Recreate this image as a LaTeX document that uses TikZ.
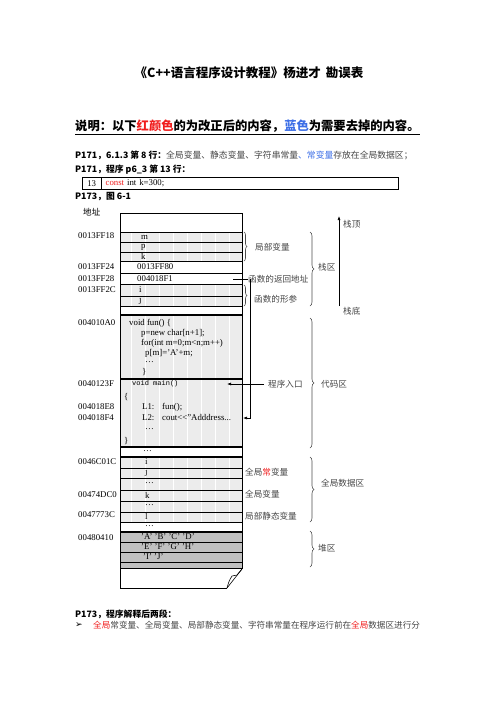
\documentclass[tikz,border=0pt]{standalone}
\usepackage{fontspec}
\setmainfont{Liberation Serif}
\newfontfamily\cjk{Noto Sans CJK SC}
\newfontfamily\codemono{Liberation Mono}
\newfontfamily\dingfont{DejaVu Sans}
\usetikzlibrary{positioning, arrows.meta, decorations.pathreplacing}
\definecolor{fixred}{RGB}{240,30,30}
\definecolor{delblue}{RGB}{60,110,230}
\definecolor{cellfill}{RGB}{236,236,236}
\definecolor{heapfill}{RGB}{192,192,192}
\definecolor{notetext}{RGB}{70,70,70}

\begin{document}
\begin{tikzpicture}[
    x=1pt, y=-1pt,
    addr/.style={anchor=west, inner sep=0pt, font=\fontsize{8.8}{10}\selectfont},
    cell/.style={anchor=west, inner sep=0pt, font=\fontsize{8.8}{10}\selectfont},
    note/.style={anchor=west, inner sep=0pt, text=notetext, font=\fontsize{8.6}{10}\cjk},
    head/.style={anchor=west, inner sep=0pt, font=\fontsize{8.8}{10}\cjk\bfseries},
    grp/.style={decorate, decoration={brace, amplitude=3pt}, draw=black!70, line width=0.6pt},
    stripe/.style={white, line width=0.8pt},
    sep/.style={line width=1.3pt},
    row/.style={line width=0.5pt},
    ptr/.style={-{Latex[length=4pt, width=3pt]}, line width=0.6pt}
]
\useasboundingbox (0,0) rectangle (496,702);

% ---------- Title ----------
\node[font=\fontsize{12.5}{14}\cjk\bfseries] (title) at (249,73) {《C++语言程序设计教程》杨进才\hspace{5pt}勘误表};
\node[anchor=west, inner sep=0pt, font=\fontsize{12.3}{14}\cjk\bfseries] (legend) at (75,127)
  {\underline{说明：以下{\color{fixred}红颜色}的为改正后的内容，{\color{delblue}蓝色}为需要去掉的内容。}};

% ---------- Errata lines ----------
\node[head] (p171a) at (75,155) {P171，6.1.3 第 8 行：{\mdseries\color{notetext}全局变量、静态变量、字符串常量{\color{delblue}、常变量}存放在全局数据区；}};
\node[head] (p171b) at (75,170) {P171，程序 p6\_3 第 13 行：};
\node[draw, anchor=north west, minimum width=19pt, minimum height=12pt, inner sep=0pt, font=\fontsize{8.8}{10}\selectfont] (lnum) at (82,177) {13};
\node[draw, right=0pt of lnum, minimum height=12pt, text width=289pt, inner xsep=4pt, inner ysep=0pt, font=\fontsize{8.8}{10}\selectfont] (lcode) {{\color{fixred}const} int k=300;};
\node[head] (p173a) at (75,197) {P173，图 6-1};

% ---------- Memory cells ----------
\fill[cellfill] (120,232) rectangle (242,261);
\fill[cellfill] (120,284) rectangle (242,306);
\fill[cellfill] (120,315) rectangle (242,447);
\fill[cellfill] (120,457) rectangle (242,522);
\fill[heapfill] (120,532) rectangle (242,568);
\foreach \sx in {131,145,...,229}
  \foreach \ya/\yb in {232/261,284/306,315/447,457/522}
    \draw[stripe] (\sx,\ya) -- (\sx,\yb);
\foreach \ry in {232,242,252,261,273,284,296,306,468,478,490,501,512,522,542,552,562,568}
  \draw[row] (120,\ry) -- (242,\ry);
\foreach \ry in {315,379,447,457,532}
  \draw[sep] (120,\ry) -- (242,\ry);
\draw[line width=0.8pt] (227,588) -- (120,588) -- (120,213) -- (242,213) -- (242,569);
\draw[line width=0.6pt] (227,588) -- (242,569);
\draw[line width=0.6pt] (227,588) .. controls (229,581) .. (232,576) -- (237,575) -- (242,569);

% ---------- Addresses ----------
\node[note, text=black] (addrhead) at (83,212) {地址};
\node[addr] (a1) at (78,236) {0013FF18};
\node[addr] (a2) at (78,267) {0013FF24};
\node[addr] (a3) at (78,279) {0013FF28};
\node[addr] (a4) at (78,290) {0013FF2C};
\node[addr] (a5) at (78,323) {004010A0};
\node[addr] (a6) at (78,384) {0040123F};
\node[addr] (a7) at (78,407) {004018E8};
\node[addr] (a8) at (78,418) {004018F4};
\node[addr] (a9) at (78,462) {0046C01C};
\node[addr] (a10) at (78,495) {00474DC0};
\node[addr] (a11) at (78,515) {0047773C};
\node[addr] (a12) at (78,538) {00480410};

% ---------- Stack contents ----------
\node[cell] (vm) at (141,237) {m};
\node[cell] (vp) at (141,247) {p};
\node[cell] (vk) at (141,256.5) {k};
\node[cell] (vold) at (137,267) {0013FF80};
\node[cell] (vret) at (137,278.5) {004018F1};
\node[cell] (vi) at (139,290) {i};
\node[cell] (vj) at (139,301) {j};

% ---------- Code contents ----------
\node[cell] (f1) at (129,323) {void fun() \{};
\node[cell] (f2) at (141,333) {p=new char[n+1];};
\node[cell] (f3) at (141,343) {for(int m=0;m<n;m++)};
\node[cell] (f4) at (145,353) {p[m]='A'+m;};
\node[cell] (f5) at (145,362) {\ldots};
\node[cell] (f6) at (142,372) {\}};
\node[cell, font=\fontsize{7}{8}\codemono] (m1) at (132,384) {void main()};
\node[cell] (m2) at (124,397) {\{};
\node[cell] (m3) at (142,407) {L1:};
\node[cell] (m3b) at (162,407) {fun();};
\node[cell] (m4) at (142,418) {L2:};
\node[cell] (m4b) at (162,418) {cout<{}<"Adddress...};
\node[cell] (m5) at (145,429) {\ldots};
\node[cell] (m6) at (124,441) {\}};

% ---------- Global data contents ----------
\node[cell] (g0) at (143,451) {\ldots};
\node[cell] (gi) at (145,462) {i};
\node[cell] (gj) at (145,473) {j};
\node[cell] (g1) at (145,483) {\ldots};
\node[cell] (gk) at (145,495) {k};
\node[cell] (g2) at (145,505) {\ldots};
\node[cell] (gl) at (145,516) {l};
\node[cell] (g3) at (145,526) {\ldots};

% ---------- Heap contents ----------
\node[cell] (h1) at (141,537) {'A' 'B' 'C' 'D'};
\node[cell] (h2) at (141,547) {'E' 'F' 'G' 'H'};
\node[cell] (h3) at (143,557) {'I' 'J'};

% ---------- Stack labels ----------
\draw[grp] (244,232) -- (244,261);
\node[note] (locvar) at (255,247) {局部变量};
\node[note] (retlab) at (248,279) {函数的返回地址};
\coordinate (retsrc) at (233,279);
\coordinate (rettap) at (250,279);
\coordinate (retdst) at (243,418);
\draw[line width=0.6pt] (retsrc) -- (retlab.west);
\draw[ptr] (rettap) |- (retdst);
\draw[grp] (244,285) -- (244,306);
\node[note] (params) at (254,299) {函数的形参};
\draw[grp, decoration={amplitude=4pt}] (310,232) -- (310,306);
\node[note] (stack) at (318,267) {栈区};
\coordinate (stkbot) at (339,306);
\coordinate (stktop) at (339,216);
\draw[ptr] (stkbot) -- (stktop);
\node[note] (stktoplab) at (343,224) {栈顶};
\node[note] (stkbotlab) at (343,311) {栈底};

% ---------- Code labels ----------
\node[note] (entry) at (268,384) {程序入口};
\coordinate (entrydst) at (227,384);
\draw[ptr, shorten <=4pt] (entry.west) -- (entrydst);
\draw[grp, decoration={amplitude=4pt}] (310,318) -- (310,448);
\node[note] (code) at (321,384) {代码区};

% ---------- Global / heap labels ----------
\node[note] (gconst) at (245,472) {全局{\color{fixred}常}变量};
\node[note] (gvar) at (245,494) {全局变量};
\node[note] (svar) at (245,516) {局部静态变量};
\draw[grp, decoration={amplitude=4pt}] (310,457) -- (310,522);
\node[note] (global) at (321,483) {全局数据区};
\draw[grp, decoration={amplitude=4pt}] (310,531) -- (310,567);
\node[note] (heap) at (318,548) {堆区};

% ---------- Bottom text ----------
\node[head] (p173b) at (75,614) {P173，程序解释后两段：};
\node[anchor=west, inner sep=0pt, font=\fontsize{9}{10}\dingfont] (bullet) at (75,625) {➢};
\node[note] (para) at (93,625) {{\color{fixred}全局}常变量、全局变量、局部静态变量、字符串常量在程序运行前在{\color{fixred}全局}数据区进行分};

\end{tikzpicture}
\end{document}
